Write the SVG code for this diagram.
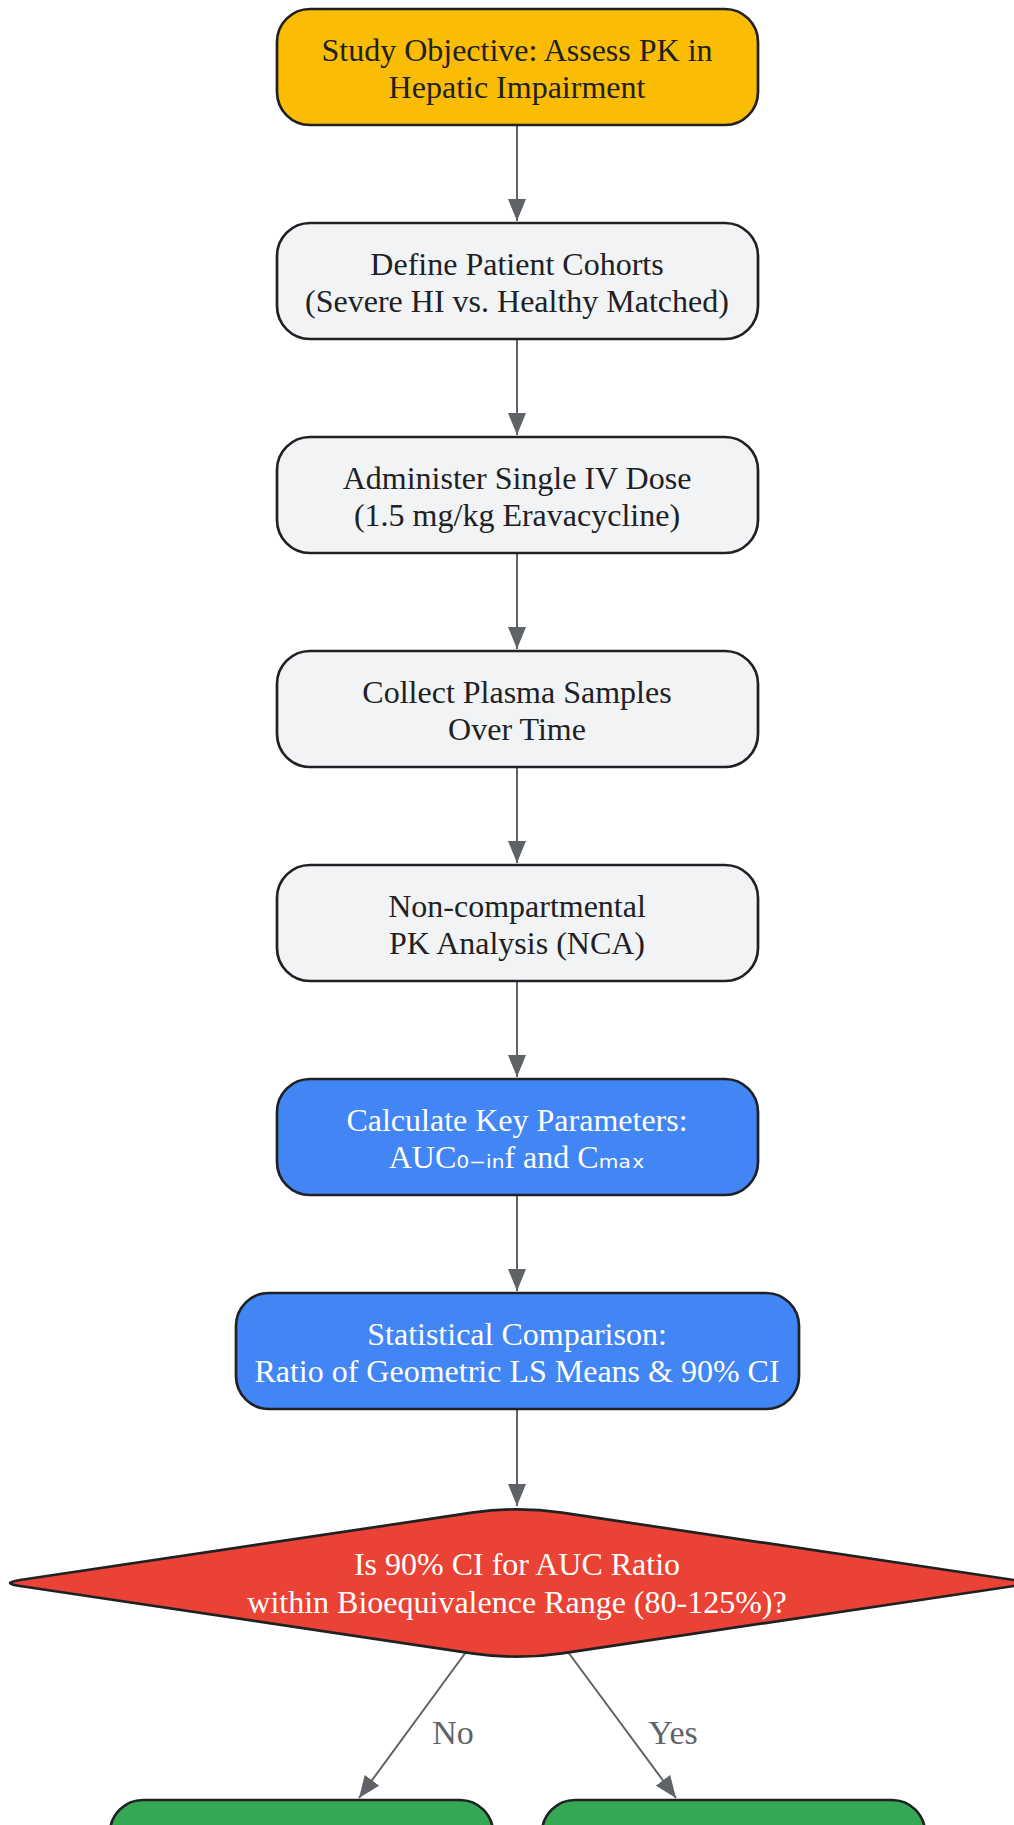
<svg xmlns="http://www.w3.org/2000/svg" width="1014" height="1825" viewBox="0 0 1014 1825">
<style>
.node{stroke:#202124;stroke-width:2.7}
.t{font-family:"Liberation Serif","DejaVu Serif",serif;font-size:32px;text-anchor:middle;fill:#202124}
.w{fill:#ffffff}
.sub{font-family:"DejaVu Sans",sans-serif}
.edge{stroke:#5F6368;stroke-width:2;fill:none}
.lbl{font-family:"Liberation Serif","DejaVu Serif",serif;font-size:34px;text-anchor:middle;fill:#5F6368}
</style>
<defs>
<marker id="ah" markerWidth="22" markerHeight="18" refX="22" refY="9" orient="auto" markerUnits="userSpaceOnUse">
<path d="M0,0 L22,9 L0,18 Z" fill="#5F6368"/>
</marker>
</defs>
<rect width="1014" height="1825" fill="#ffffff"/>
<g id="connectors">
<line class="edge" x1="517" y1="125" x2="517" y2="221" marker-end="url(#ah)"/>
<line class="edge" x1="517" y1="339" x2="517" y2="435" marker-end="url(#ah)"/>
<line class="edge" x1="517" y1="553" x2="517" y2="649" marker-end="url(#ah)"/>
<line class="edge" x1="517" y1="767" x2="517" y2="863" marker-end="url(#ah)"/>
<line class="edge" x1="517" y1="981" x2="517" y2="1077" marker-end="url(#ah)"/>
<line class="edge" x1="517" y1="1195" x2="517" y2="1291" marker-end="url(#ah)"/>
<line class="edge" x1="517" y1="1409" x2="517" y2="1506" marker-end="url(#ah)"/>
<line class="edge" x1="466" y1="1652" x2="359" y2="1798" marker-end="url(#ah)"/>
<line class="edge" x1="568" y1="1652" x2="676" y2="1798" marker-end="url(#ah)"/>
<text class="lbl" x="453" y="1744">No</text>
<text class="lbl" x="673" y="1744">Yes</text>
</g>
<g id="n1"><rect class="node" x="277" y="9" width="481" height="116" rx="33" fill="#FBBC04"/>
<text class="t" x="517" y="61">Study Objective: Assess PK in</text><text class="t" x="517" y="98">Hepatic Impairment</text></g>
<g id="n2"><rect class="node" x="277" y="223" width="481" height="116" rx="33" fill="#F1F3F4"/>
<text class="t" x="517" y="275">Define Patient Cohorts</text><text class="t" x="517" y="312">(Severe HI vs. Healthy Matched)</text></g>
<g id="n3"><rect class="node" x="277" y="437" width="481" height="116" rx="33" fill="#F1F3F4"/>
<text class="t" x="517" y="489">Administer Single IV Dose</text><text class="t" x="517" y="526">(1.5 mg/kg Eravacycline)</text></g>
<g id="n4"><rect class="node" x="277" y="651" width="481" height="116" rx="33" fill="#F1F3F4"/>
<text class="t" x="517" y="703">Collect Plasma Samples</text><text class="t" x="517" y="740">Over Time</text></g>
<g id="n5"><rect class="node" x="277" y="865" width="481" height="116" rx="33" fill="#F1F3F4"/>
<text class="t" x="517" y="917">Non-compartmental</text><text class="t" x="517" y="954">PK Analysis (NCA)</text></g>
<g id="n6"><rect class="node" x="277" y="1079" width="481" height="116" rx="33" fill="#4285F4"/>
<text class="t w" x="517" y="1131">Calculate Key Parameters:</text><text class="t w" x="517" y="1168">AUC<tspan class="sub">₀₋ᵢₙ</tspan>f and C<tspan class="sub">ₘₐₓ</tspan></text></g>
<g id="n7"><rect class="node" x="236" y="1293" width="563" height="116" rx="33" fill="#4285F4"/>
<text class="t w" x="517" y="1345">Statistical Comparison:</text><text class="t w" x="517" y="1382">Ratio of Geometric LS Means &amp; 90% CI</text></g>
<g id="n8"><path class="node" fill="#EA4335" d="M472,1512.7 Q517,1506 562,1512.7 L1014,1580 Q1034,1583 1014,1586 L562,1653.3 Q517,1660 472,1653.3 L20,1586 Q0,1583 20,1580 Z"/>
<text class="t w" x="517" y="1575">Is 90% CI for AUC Ratio</text><text class="t w" x="517" y="1613">within Bioequivalence Range (80-125%)?</text></g>
<g id="n9"><rect class="node" x="110" y="1800" width="383" height="140" rx="33" fill="#34A853"/></g>
<g id="n10"><rect class="node" x="542" y="1800" width="383" height="140" rx="33" fill="#34A853"/></g>
</svg>
